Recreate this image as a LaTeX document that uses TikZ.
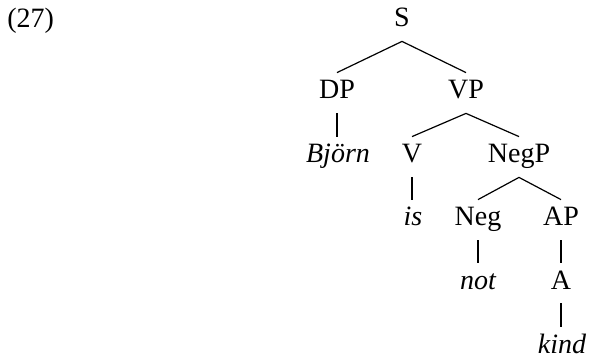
\documentclass[tikz,border=0pt]{standalone}
\usepackage{fontspec}
\setmainfont{Liberation Serif}
\begin{document}
\begin{tikzpicture}[x=0.5pt,y=-0.5pt,
  lbl/.style={anchor=base, inner xsep=0pt, inner ysep=4pt, text height=9pt, text depth=3pt,
    font=\fontsize{14}{17}\selectfont},
  br/.style={line width=0.6pt}]
\useasboundingbox (0,0) rectangle (592,357);
\node[anchor=base west, inner sep=0pt, font=\fontsize{14}{17}\selectfont] (num) at (7,28) {(27)};
\node[lbl] (S) at (402,27) {S};
\node[lbl] (DP) at (337,99) {DP};
\node[lbl] (VP) at (466,99) {VP};
\node[lbl] (bj) at (338,163) {\itshape Björn};
\node[lbl] (V) at (412,163) {V};
\node[lbl] (NegP) at (519,163) {NegP};
\node[lbl] (is) at (413,226) {\itshape is};
\node[lbl] (Neg) at (478,226) {Neg};
\node[lbl] (AP) at (561,226) {AP};
\node[lbl] (not) at (478,289) {\itshape not};
\node[lbl] (A) at (561,289) {A};
\node[lbl] (kind) at (562,353) {\itshape kind};
\draw[br] (S.south) -- (DP.north);
\draw[br] (S.south) -- (VP.north);
\draw[br] (DP.south) -- (DP.south |- bj.north);
\draw[br] (VP.south) -- (V.north);
\draw[br] (VP.south) -- (NegP.north);
\draw[br] (V.south) -- (V.south |- is.north);
\draw[br] (NegP.south) -- (Neg.north);
\draw[br] (NegP.south) -- (AP.north);
\draw[br] (Neg.south) -- (Neg.south |- not.north);
\draw[br] (AP.south) -- (A.north);
\draw[br] (A.south) -- (A.south |- kind.north);
\end{tikzpicture}
\end{document}
